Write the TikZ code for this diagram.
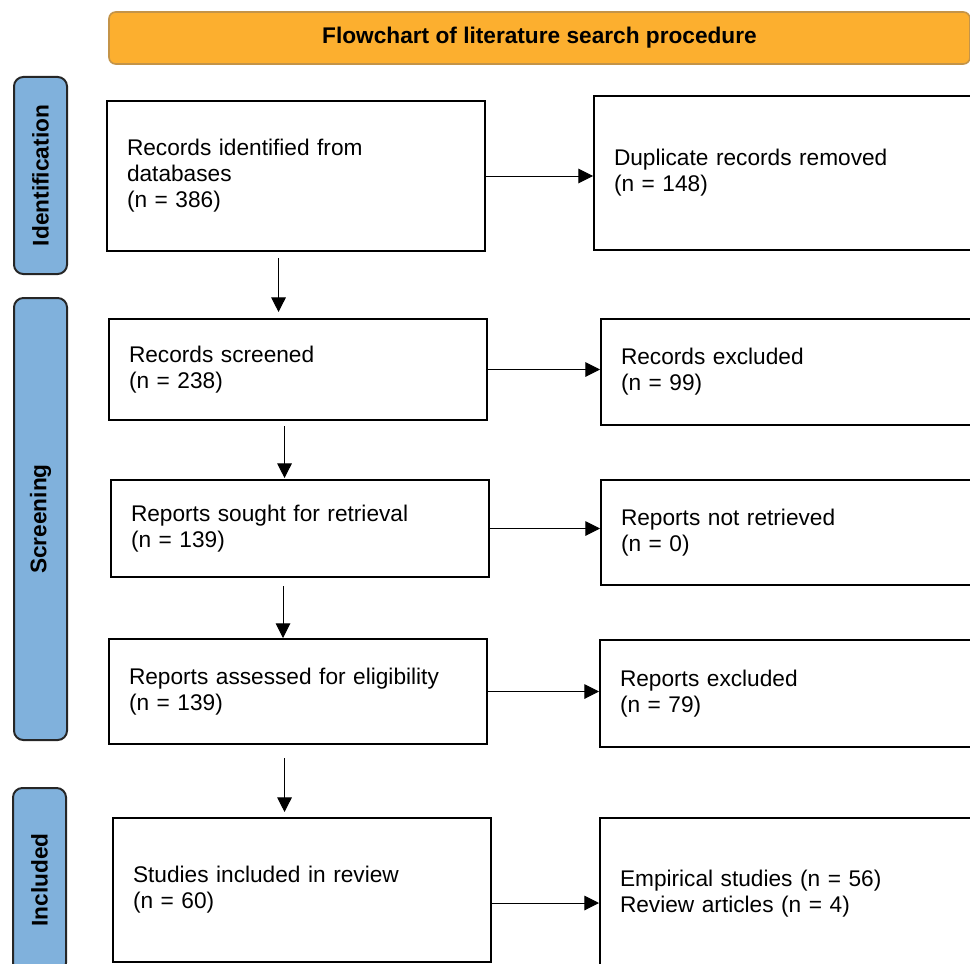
\documentclass[tikz,border=0pt]{standalone}
\usepackage{fontspec}
\setmainfont{Liberation Sans}
\usetikzlibrary{arrows.meta}

\definecolor{headorange}{RGB}{252,175,47}
\definecolor{headrim}{RGB}{196,148,72}
\definecolor{stageblue}{RGB}{128,177,220}

\tikzset{
    every node/.style={font=\fontsize{17}{19.5}\selectfont},
    flowbox/.style={draw, line width=1.5pt, rectangle, anchor=north west, align=left, inner xsep=15pt, inner ysep=0pt},
    leftbox/.style={flowbox, text width=253.5pt},
    rightbox/.style={flowbox, text width=300pt},
    stagebox/.style={draw=black!85, fill=stageblue, line width=1.5pt, rounded corners=7pt, rotate=90, minimum height=39.75pt, inner sep=0pt, font=\bfseries\fontsize{17}{19.5}\selectfont},
    titlebox/.style={draw=headrim, fill=headorange, line width=1.2pt, rounded corners=5pt, minimum width=645.75pt, minimum height=39pt, font=\bfseries\fontsize{17}{19.5}\selectfont},
    flowarrow/.style={-{Triangle[length=11pt,width=11pt]}, line width=0.75pt},
}

\begin{document}
\begin{tikzpicture}[x=0.75pt, y=-0.75pt]
        \clip (0,0) rectangle (970,963);

        \node[titlebox] (title) at (539.5,38) {Flowchart of literature search procedure};

        \node[stagebox, minimum width=147.75pt] (ident) at (40.5,175.5) {Identification};
        \node[stagebox, minimum width=331.5pt] (screen) at (40.5,519) {Screening};
        \node[stagebox, minimum width=138pt] (included) at (39.5,880) {Included};

        \node[leftbox, minimum height=112.5pt] (rec) at (106,100) {Records identified from\\databases\\(n = 386)};
        \node[leftbox, minimum height=75.75pt] (scr) at (108,318) {Records screened\\(n = 238)};
        \node[leftbox, minimum height=72.75pt] (sought) at (110,479) {Reports sought for retrieval\\(n = 139)};
        \node[leftbox, minimum height=78.75pt] (elig) at (108,638) {Reports assessed for eligibility\\(n = 139)};
        \node[leftbox, minimum height=108pt] (incl) at (112,817) {Studies included in review\\(n = 60)};

        \node[rightbox, minimum height=115.5pt] (dup) at (593,95) {Duplicate records removed\\(n = 148)};
        \node[rightbox, minimum height=79.5pt] (exc) at (600,318) {Records excluded\\(n = 99)};
        \node[rightbox, minimum height=78.75pt] (notret) at (600,479) {Reports not retrieved\\(n = 0)};
        \node[rightbox, minimum height=80.25pt] (repexc) at (599,639) {Reports excluded\\(n = 79)};
        \node[rightbox, minimum height=114pt] (emp) at (599,817) {Empirical studies (n = 56)\\Review articles (n = 4)};

        \coordinate (v1) at ([xshift=-13.1pt]rec.south);
        \coordinate (v2) at ([xshift=-10.1pt]scr.south);
        \coordinate (v3) at ([xshift=-12.75pt]sought.south);
        \coordinate (v4) at ([xshift=-10.1pt]elig.south);
        \coordinate (h5) at ([yshift=-9.75pt]incl.east);

        \draw[flowarrow, shorten <=4.5pt, shorten >=4.5pt] (v1) -- (v1 |- scr.north);
        \draw[flowarrow, shorten <=3.75pt, shorten >=0.75pt] (v2) -- (v2 |- sought.north);
        \draw[flowarrow, shorten <=6pt] (v3) -- (v3 |- elig.north);
        \draw[flowarrow, shorten <=9.75pt, shorten >=3.75pt] (v4) -- (v4 |- incl.north);

        \draw[flowarrow] (rec.east) -- (rec.east -| dup.west);
        \draw[flowarrow] (scr.east) -- (scr.east -| exc.west);
        \draw[flowarrow] (sought.east) -- (sought.east -| notret.west);
        \draw[flowarrow] (elig.east) -- (elig.east -| repexc.west);
        \draw[flowarrow] (h5) -- (h5 -| emp.west);

    \end{tikzpicture}
\end{document}
